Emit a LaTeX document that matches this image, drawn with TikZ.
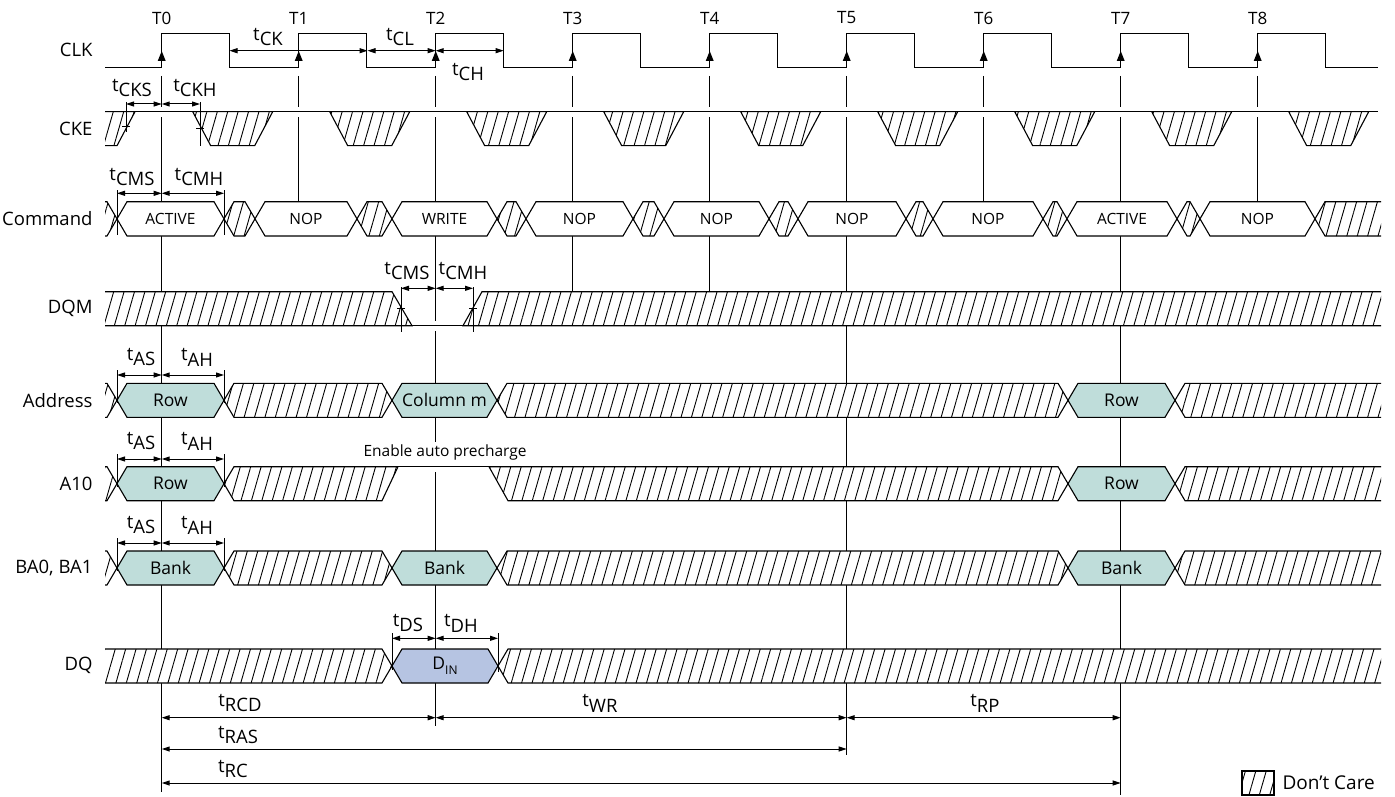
\documentclass[tikz,border=0pt]{standalone}
\usepackage{fontspec}
\setmainfont{Open Sans}
\usetikzlibrary{arrows.meta,patterns.meta}

\definecolor{rowteal}{HTML}{BFDDDA}
\definecolor{dinblue}{HTML}{B6C4E2}

\tikzset{
  wave/.style={line width=1.2pt},
  clkwave/.style={line width=1.4pt},
  guide/.style={line width=1pt},
  halo/.style={white, line width=10pt},
  dontcare/.style={draw, line width=1.1pt, preaction={fill=white},
    pattern={Lines[angle=74,distance=10pt,line width=0.9pt]}},
  cmdbox/.style={draw, line width=1.1pt, fill=white},
  addrbox/.style={draw, line width=1.1pt, fill=rowteal},
  dinbox/.style={draw, line width=1.1pt, fill=dinblue},
  dim/.style={{Triangle[length=8pt,width=5pt]}-{Triangle[length=8pt,width=5pt]}, line width=1pt},
  tick/.style={line width=1pt},
  signame/.style={anchor=east, font=\fontsize{18.5}{21}\selectfont},
  tlabel/.style={font=\fontsize{17}{20}\selectfont},
  timing/.style={font=\fontsize{18.5}{21}\selectfont, inner sep=1pt},
  valtext/.style={font=\fontsize{17.5}{20}\selectfont},
  cmdtext/.style={font=\fontsize{15.5}{18}\selectfont},
}

\newcommand\tm[1]{t\raisebox{-0.32em}{#1}}
\newcommand\hexpath[4]{(#1,{(#3+#4)/2}) -- ({#1+10},#3) -- ({#2-10},#3)
  -- (#2,{(#3+#4)/2}) -- ({#2-10},#4) -- ({#1+10},#4) -- cycle}

\begin{document}
\begin{tikzpicture}[x=1pt,y=-1pt]
\useasboundingbox (0,0) rectangle (1395,797);

\newcommand\CLKh{33.3}
\newcommand\CLKl{67.3}
\newcommand\CKEt{111.7}
\newcommand\CKEb{145.7}
\newcommand\CMDt{201.7}
\newcommand\CMDb{236}
\newcommand\DQMt{291.7}
\newcommand\DQMb{325.7}
\newcommand\ADRt{383.3}
\newcommand\ADRb{417.3}
\newcommand\ATt{466.7}
\newcommand\ATb{500.7}
\newcommand\BAt{551}
\newcommand\BAb{585}
\newcommand\DQt{649}
\newcommand\DQb{683}

  %% clock edges
  \foreach \i in {0,...,8} {
    \coordinate (T\i) at ({161.7+137*\i},76);
    \node[tlabel] (lT\i) at ({161.7+137*\i},18) {T\i};
  }

  %% guide lines
  \foreach \i/\yend in {0/792, 1/201.7, 2/726, 3/291.7, 4/291.7,
                        5/755, 6/201.7, 7/795, 8/201.7}
    \draw[guide] (T\i) -- (T\i |- 0,\yend);

  %% gaps in the guide lines
  \draw[halo] (105,\CKEt) -- (1378,\CKEt);
  \draw[halo] (412,\DQMb) -- (463,\DQMb);
  \draw[halo] (398,\ATt) -- (489,\ATt);

  %% signal names
  \node[signame] (nCLK) at (96,50) {CLK};
  \node[signame] (nCKE) at (96,128.7) {CKE};
  \node[signame] (nCMD) at (96,218.9) {Command};
  \node[signame] (nDQM) at (96,308.7) {DQM};
  \node[signame] (nADR) at (96,400.3) {Address};
  \node[signame] (nA10) at (96,483.7) {A10};
  \node[signame] (nBA) at (96,568) {BA0, BA1};
  \node[signame] (nDQ) at (96,665.8) {DQ};

  %% CLK
  \draw[clkwave] (105,\CLKl) \foreach \i in {0,...,8} {
    -- (T\i |- 0,\CLKl) -- (T\i |- 0,\CLKh) -- ++(68,0) -- ++(0,34) }
    -- (1378,\CLKl);
  \foreach \i in {0,...,8}
    \fill (T\i |- 0,61) ++(-4,0) -- ++(4,-10) -- ++(4,10) -- cycle;

  %% CKE
  \draw[dontcare] (105,\CKEt) -- (135,\CKEt) -- (117,\CKEb) -- (105,\CKEb);
  \foreach \i in {0,...,8}
    \draw[dontcare] (T\i |- 0,\CKEt) ++(31,0) -- ++(18,34) -- ++(44,0)
      -- ++(18,-34) -- cycle;
  \draw[wave] (105,\CKEt) -- (1378,\CKEt);

  %% Command
  \draw[dontcare] (105,\CMDt) -- (107,\CMDt) -- (117,{(\CMDt+\CMDb)/2})
    -- (107,\CMDb) -- (105,\CMDb);
  \foreach \xl/\xr in {224/255, 357/392, 497/526, 633/664, 769/798,
                       906/933, 1043/1067, 1177/1200}
    \draw[dontcare] \hexpath{\xl}{\xr}{\CMDt}{\CMDb};
  \draw[dontcare] (1381,\CMDt) -- (1325,\CMDt) -- (1315,{(\CMDt+\CMDb)/2})
    -- (1325,\CMDb) -- (1381,\CMDb);
  \foreach \xl/\xr/\cmd [count=\n] in {117/224/ACTIVE, 255/357/NOP,
      392/497/WRITE, 526/633/NOP, 664/769/NOP, 798/906/NOP, 933/1043/NOP,
      1067/1177/ACTIVE, 1200/1315/NOP} {
    \draw[cmdbox] \hexpath{\xl}{\xr}{\CMDt}{\CMDb};
    \node[cmdtext] (cmd\n) at ({(\xl+\xr)/2},{(\CMDt+\CMDb)/2}) {\cmd};
  }

  %% DQM
  \draw[dontcare] (105,\DQMt) -- (392,\DQMt) -- (412,\DQMb) -- (105,\DQMb);
  \draw[wave] (412,\DQMb) -- (463,\DQMb);
  \draw[dontcare] (1381,\DQMt) -- (482,\DQMt) -- (463,\DQMb) -- (1381,\DQMb);

  %% Address
  \draw[dontcare] (105,\ADRt) -- (107,\ADRt) -- (117,{(\ADRt+\ADRb)/2})
    -- (107,\ADRb) -- (105,\ADRb);
  \draw[dontcare] \hexpath{224}{392}{\ADRt}{\ADRb};
  \draw[dontcare] \hexpath{497}{1068}{\ADRt}{\ADRb};
  \draw[dontcare] (1381,\ADRt) -- (1185,\ADRt) -- (1175,{(\ADRt+\ADRb)/2})
    -- (1185,\ADRb) -- (1381,\ADRb);
  \draw[addrbox] \hexpath{117}{224}{\ADRt}{\ADRb};
  \draw[addrbox] \hexpath{392}{497}{\ADRt}{\ADRb};
  \draw[addrbox] \hexpath{1068}{1175}{\ADRt}{\ADRb};
  \node[valtext] (adr1) at (170.5,{(\ADRt+\ADRb)/2}) {Row};
  \node[valtext] (adr2) at (444.5,{(\ADRt+\ADRb)/2}) {Column m};
  \node[valtext] (adr3) at (1121.5,{(\ADRt+\ADRb)/2}) {Row};

  %% A10
  \draw[dontcare] (105,\ATt) -- (107,\ATt) -- (117,{(\ATt+\ATb)/2})
    -- (107,\ATb) -- (105,\ATb);
  \draw[dontcare] (224,{(\ATt+\ATb)/2}) -- (234,\ATt) -- (398,\ATt)
    -- (382,\ATb) -- (234,\ATb) -- cycle;
  \draw[wave] (398,\ATt) -- (489,\ATt);
  \draw[dontcare] (489,\ATt) -- (1058,\ATt) -- (1068,{(\ATt+\ATb)/2})
    -- (1058,\ATb) -- (508,\ATb) -- cycle;
  \draw[dontcare] (1381,\ATt) -- (1185,\ATt) -- (1175,{(\ATt+\ATb)/2})
    -- (1185,\ATb) -- (1381,\ATb);
  \draw[addrbox] \hexpath{117}{224}{\ATt}{\ATb};
  \draw[addrbox] \hexpath{1068}{1175}{\ATt}{\ATb};
  \node[valtext] (a101) at (170.5,{(\ATt+\ATb)/2}) {Row};
  \node[valtext] (a102) at (1121.5,{(\ATt+\ATb)/2}) {Row};
  \node[cmdtext, fill=white, inner sep=2pt] (eap) at (445,452)
    {Enable auto precharge};

  %% BA0, BA1
  \draw[dontcare] (105,\BAt) -- (107,\BAt) -- (117,{(\BAt+\BAb)/2})
    -- (107,\BAb) -- (105,\BAb);
  \draw[dontcare] \hexpath{224}{392}{\BAt}{\BAb};
  \draw[dontcare] \hexpath{497}{1068}{\BAt}{\BAb};
  \draw[dontcare] (1381,\BAt) -- (1185,\BAt) -- (1175,{(\BAt+\BAb)/2})
    -- (1185,\BAb) -- (1381,\BAb);
  \draw[addrbox] \hexpath{117}{224}{\BAt}{\BAb};
  \draw[addrbox] \hexpath{392}{497}{\BAt}{\BAb};
  \draw[addrbox] \hexpath{1068}{1175}{\BAt}{\BAb};
  \node[valtext] (ba1) at (170.5,{(\BAt+\BAb)/2}) {Bank};
  \node[valtext] (ba2) at (444.5,{(\BAt+\BAb)/2}) {Bank};
  \node[valtext] (ba3) at (1121.5,{(\BAt+\BAb)/2}) {Bank};

  %% DQ
  \draw[dontcare] (105,\DQt) -- (382,\DQt) -- (392,{(\DQt+\DQb)/2})
    -- (382,\DQb) -- (105,\DQb);
  \draw[dontcare] (1381,\DQt) -- (508,\DQt) -- (498,{(\DQt+\DQb)/2})
    -- (508,\DQb) -- (1381,\DQb);
  \draw[dinbox] \hexpath{392}{498}{\DQt}{\DQb};
  \node[valtext] (din) at (445,{(\DQt+\DQb)/2})
    {D\raisebox{-0.3em}{\fontsize{12}{13}\selectfont IN}};

  %% clock timings
  \draw[dim] (229.5,50.7) -- (367.5,50.7);
  \draw[dim] (367.5,50.7) -- (T2 |- 0,50.7);
  \draw[dim] (T2 |- 0,50.7) -- (503.7,50.7);
  \node[timing] (tck) at (268,37) {\tm{CK}};
  \node[timing] (tcl) at (400,37) {\tm{CL}};
  \node[timing] (tch) at (468,72) {\tm{CH}};

  %% CKE setup and hold
  \draw[tick] (126,102) -- (126,132);
  \draw[tick] (122,127) -- (130,127);
  \draw[tick] (200,102) -- (200,146);
  \draw[tick] (196,129) -- (204,129);
  \draw[dim] (126,104) -- (T0 |- 0,104);
  \draw[dim] (T0 |- 0,104) -- (200,104);
  \node[timing] (tcks) at (132,88) {\tm{CKS}};
  \node[timing] (tckh) at (195,88) {\tm{CKH}};

  %% command setup and hold
  \draw[tick] (117,190) -- (117,235);
  \draw[tick] (224,190) -- (224,235);
  \draw[dim] (117,193.3) -- (T0 |- 0,193.3);
  \draw[dim] (T0 |- 0,193.3) -- (224,193.3);
  \node[timing] (tcms) at (132,177) {\tm{CMS}};
  \node[timing] (tcmh) at (199,177) {\tm{CMH}};

  %% DQM setup and hold
  \draw[tick] (401,287) -- (401,332);
  \draw[tick] (397,308) -- (405,308);
  \draw[tick] (473,287) -- (473,332);
  \draw[tick] (469,308) -- (477,308);
  \draw[dim] (401,288.3) -- (T2 |- 0,288.3);
  \draw[dim] (T2 |- 0,288.3) -- (473,288.3);
  \node[timing] (tcms2) at (407,271) {\tm{CMS}};
  \node[timing] (tcmh2) at (463,271) {\tm{CMH}};

  %% address setup and hold
  \foreach \ya/\nm in {375/adr, 459/aten, 543/bank} {
    \draw[tick] (117,\ya-5) -- (117,\ya+28);
    \draw[tick] (224,\ya-5) -- (224,\ya+28);
    \draw[dim] (117,\ya) -- (T0 |- 0,\ya);
    \draw[dim] (T0 |- 0,\ya) -- (224,\ya);
    \node[timing] (tas\nm) at (141,\ya-18) {\tm{AS}};
    \node[timing] (tah\nm) at (197,\ya-18) {\tm{AH}};
  }

  %% data setup and hold
  \draw[tick] (392,633) -- (392,670);
  \draw[tick] (498,633) -- (498,672);
  \draw[dim] (392,638.3) -- (T2 |- 0,638.3);
  \draw[dim] (T2 |- 0,638.3) -- (498,638.3);
  \node[timing] (tds) at (408,623) {\tm{DS}};
  \node[timing] (tdh) at (461,623) {\tm{DH}};

  %% row timings
  \draw[dim] (T0 |- 0,717.7) -- (T2 |- 0,717.7);
  \draw[dim] (T2 |- 0,717.7) -- (T5 |- 0,717.7);
  \draw[dim] (T5 |- 0,717.7) -- (T7 |- 0,717.7);
  \draw[dim] (T0 |- 0,749) -- (T5 |- 0,749);
  \draw[dim] (T0 |- 0,783) -- (T7 |- 0,783);
  \node[timing] (trcd) at (240,703) {\tm{RCD}};
  \node[timing] (twr) at (600,703) {\tm{WR}};
  \node[timing] (trp) at (985,703) {\tm{RP}};
  \node[timing] (tras) at (238,735) {\tm{RAS}};
  \node[timing] (trc) at (233,769) {\tm{RC}};

  %% legend
  \draw[dontcare] (1242,771) rectangle (1274,795);
  \node[signame, anchor=west, font=\fontsize{19}{22}\selectfont] (dontcare)
    at (1279,783) {Don’t Care};

\end{tikzpicture}
\end{document}
